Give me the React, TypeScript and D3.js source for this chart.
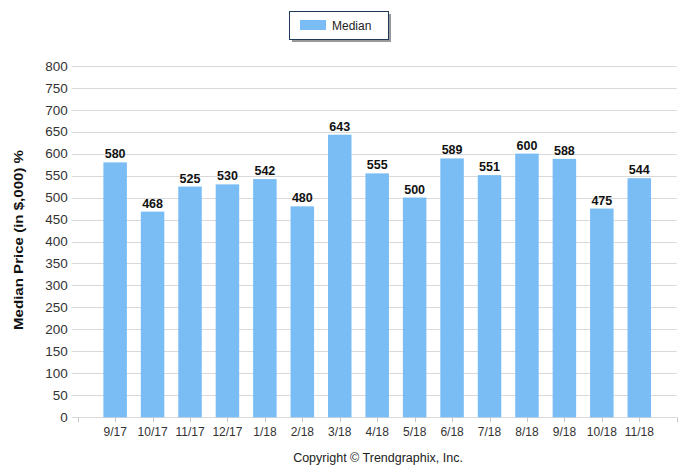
import React, { useEffect, useRef } from "react";
import * as d3 from "d3";

const categories = ["9/17","10/17","11/17","12/17","1/18","2/18","3/18","4/18","5/18","6/18","7/18","8/18","9/18","10/18","11/18"];
const medianValues = [580,468,525,530,542,480,643,555,500,589,551,600,588,475,544];
const yTicks = [0,50,100,150,200,250,300,350,400,450,500,550,600,650,700,750,800];
const seriesName = "Median";
const yTitle = "Median Price (in $,000) %";
const copyright = "Copyright \u00A9 Trendgraphix, Inc.";

export default function App() {
  const ref = useRef<SVGSVGElement>(null);
  useEffect(() => {
    const svg = d3.select(ref.current);
    svg.selectAll("*").remove();
    const W = 699, H = 469;
    const left = 77.7, right = 676.7, top = 65.7, bottom = 417.3;
    const font = "'Liberation Sans', Arial, sans-serif";
    const x = d3.scalePoint<string>().domain(categories).range([left, right]).padding(1);
    const y = d3.scaleLinear().domain([0, 800]).range([bottom, top]);
    const barW = 23.5;

    svg.append("rect").attr("width", W).attr("height", H).attr("fill", "#fff");

    // gridlines
    const g = svg.append("g");
    g.selectAll("line.grid").data(yTicks).join("line")
      .attr("x1", left - 6).attr("x2", right)
      .attr("y1", d => Math.round(y(d)) + 0.5).attr("y2", d => Math.round(y(d)) + 0.5)
      .attr("stroke", "#d9d9d9").attr("stroke-width", 1);
    g.selectAll("text.yt").data(yTicks).join("text")
      .attr("x", left - 10).attr("y", d => y(d)).attr("dy", "0.36em")
      .attr("text-anchor", "end").attr("font-family", font).attr("font-size", 13.5).attr("fill", "#333")
      .text(d => d);

    // x axis ticks
    const tickXs = [left, ...categories.map(c => x(c)!), right];
    g.selectAll("line.xt").data(tickXs).join("line")
      .attr("x1", d => Math.round(d) + 0.5).attr("x2", d => Math.round(d) + 0.5)
      .attr("y1", bottom).attr("y2", bottom + 5)
      .attr("stroke", "#c8c8c8");
    g.selectAll("text.xl").data(categories).join("text")
      .attr("x", c => x(c)!).attr("y", 436)
      .attr("text-anchor", "middle").attr("font-family", font).attr("font-size", 12).attr("fill", "#333")
      .text(c => c);

    // bars
    g.selectAll("rect.bar").data(categories).join("rect")
      .attr("x", c => x(c)! - barW / 2).attr("width", barW)
      .attr("y", (c, i) => y(medianValues[i])).attr("height", (c, i) => bottom - y(medianValues[i]))
      .attr("fill", "#7abdf5");
    g.selectAll("text.val").data(categories).join("text")
      .attr("x", c => x(c)!).attr("y", (c, i) => y(medianValues[i]) - 4)
      .attr("text-anchor", "middle").attr("font-family", font).attr("font-weight", "bold").attr("font-size", 12.5).attr("fill", "#111")
      .text((c, i) => medianValues[i]);

    // y title
    svg.append("text")
      .attr("transform", `translate(23,240) rotate(-90)`)
      .attr("text-anchor", "middle").attr("font-family", font).attr("font-weight", "bold").attr("font-size", 13.5).attr("fill", "#111")
      .attr("textLength", 180).attr("lengthAdjust", "spacingAndGlyphs")
      .text(yTitle);

    // legend
    svg.append("rect").attr("x", 292).attr("y", 14).attr("width", 99).attr("height", 28).attr("fill", "#999");
    svg.append("rect").attr("x", 289.5).attr("y", 11.5).attr("width", 99).attr("height", 28).attr("fill", "#fff").attr("stroke", "#1f3a5a").attr("stroke-width", 1);
    svg.append("rect").attr("x", 300).attr("y", 20).attr("width", 26).attr("height", 10).attr("fill", "#7abdf5");
    svg.append("text").attr("x", 332).attr("y", 30).attr("font-family", font).attr("font-size", 12).attr("fill", "#222").text(seriesName);

    svg.append("text").attr("x", 378).attr("y", 462).attr("text-anchor", "middle")
      .attr("font-family", font).attr("font-size", 12.5).attr("fill", "#222").text(copyright);
  }, []);
  return <svg ref={ref} width={699} height={469} style={{ position: "absolute", left: 0, top: 0 }} />;
}
